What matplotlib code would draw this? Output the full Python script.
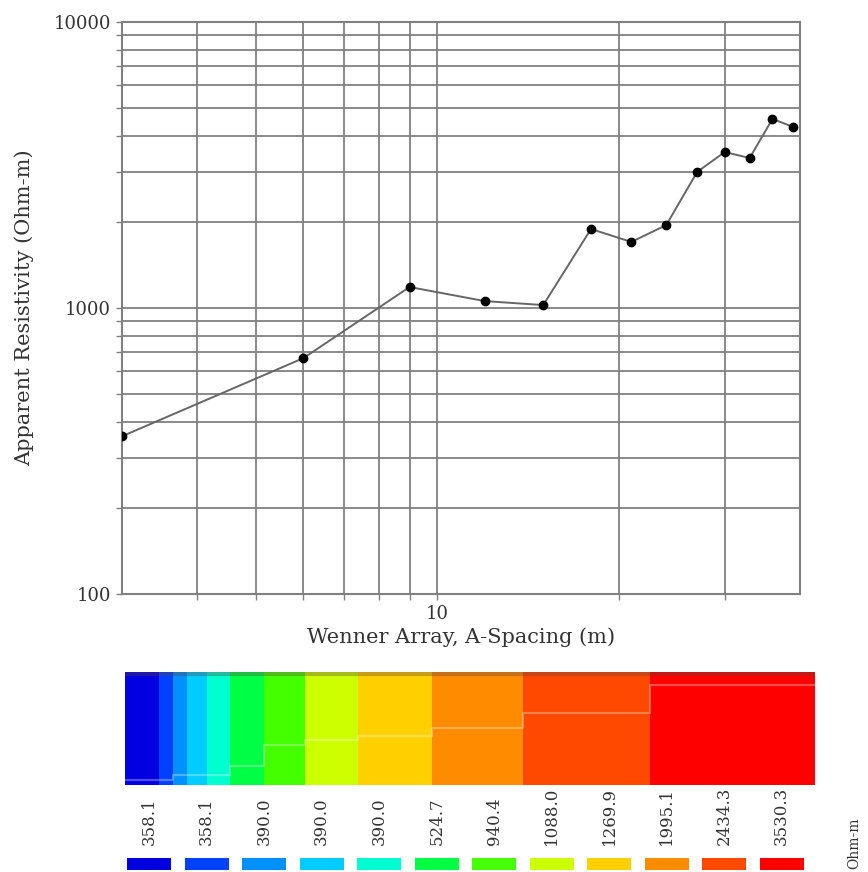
import matplotlib
matplotlib.use("Agg")
import matplotlib.pyplot as plt
import numpy as np
from matplotlib.ticker import FixedLocator, NullFormatter, FixedFormatter

# ---- sounding curve data ----
a_spacing = [3, 6, 9, 12, 15, 18, 21, 24, 27, 30, 33, 36, 39]
app_res = [356, 668, 1184, 1057, 1024, 1889, 1702, 1950, 2990, 3510, 3345, 4580, 4295]

# ---- pseudo-section / legend data ----
legend_labels = ["358.1", "358.1", "390.0", "390.0", "390.0", "524.7",
                 "940.4", "1088.0", "1269.9", "1995.1", "2434.3", "3530.3"]
legend_colors = ["#0000E0", "#0040FF", "#0090FF", "#00CCFF", "#00FFD0", "#00FF44",
                 "#44FF00", "#CCFF00", "#FFD000", "#FF8C00", "#FF4800", "#FF0000"]
section_widths = [34, 14, 14, 20, 23, 34, 41, 53, 74, 91, 127, 165]
section_layer_depth = [108, 108, 103, 103, 103, 94, 73, 68, 64, 56, 41, 13]

fig = plt.figure(figsize=(8.68, 8.72), dpi=100)
W, H = 868, 872

def ax_px(l, t, r, b):
    return fig.add_axes([l / W, 1 - b / H, (r - l) / W, (b - t) / H])

serif = ["DejaVu Serif"]
tc = "#333333"
gc = "#808080"

# ---- main sounding plot ----
ax = ax_px(122, 22, 800, 594)
ax.plot(a_spacing, app_res, color="#666666", lw=1.4, marker="o", ms=6,
        mfc="black", mec="black", zorder=3)
ax.set_xscale("log")
ax.set_yscale("log")
ax.set_xlim(3, 40)
ax.set_ylim(100, 10000)

xmaj = [10]
xmin = [4, 5, 6, 7, 8, 9, 20, 30]
ymaj = [100, 1000, 10000]
ymin = [v * m for m in (100, 1000) for v in range(2, 10)]
ax.xaxis.set_major_locator(FixedLocator(xmaj))
ax.xaxis.set_major_formatter(FixedFormatter(["10"]))
ax.xaxis.set_minor_locator(FixedLocator(xmin))
ax.xaxis.set_minor_formatter(NullFormatter())
ax.yaxis.set_major_locator(FixedLocator(ymaj))
ax.yaxis.set_major_formatter(FixedFormatter(["100", "1000", "10000"]))
ax.yaxis.set_minor_locator(FixedLocator(ymin))
ax.yaxis.set_minor_formatter(NullFormatter())
ax.grid(True, which="both", color=gc, lw=1.3)
ax.set_axisbelow(True)
ax.tick_params(which="both", length=4, width=1, color=gc, direction="out",
               labelsize=13, labelcolor=tc, pad=4)
for lab in ax.get_xticklabels() + ax.get_yticklabels():
    lab.set_family(serif)
for s in ax.spines.values():
    s.set_color(gc)
    s.set_linewidth(1.5)
ax.set_xlabel("Wenner Array, A-Spacing (m)", family=serif, fontsize=15,
              color=tc, labelpad=3)
ax.set_ylabel("Apparent Resistivity (Ohm-m)", family=serif, fontsize=15,
              color=tc, labelpad=14)

# ---- pseudo-section ----
axs = ax_px(125, 672, 815, 785)
edges = np.concatenate([[0], np.cumsum(section_widths)])
total = edges[-1]
for i in range(len(section_widths)):
    axs.axvspan(edges[i], edges[i + 1], color=legend_colors[i], lw=0)
step_x = list(edges)
step_y = section_layer_depth + [section_layer_depth[-1]]
axs.step(step_x, step_y, where="post", color="white", alpha=0.3, lw=1.6)
axs.axhline(2, color="#604040", alpha=0.35, lw=3)
axs.set_xlim(0, total)
axs.set_ylim(113, 0)
axs.axis("off")

# ---- color legend ----
axl = ax_px(125, 785, 815, 872)
axl.set_xlim(0, len(legend_labels))
axl.set_ylim(87, 0)
axl.axis("off")
for i, (lab, col) in enumerate(zip(legend_labels, legend_colors)):
    axl.add_patch(plt.Rectangle((i + 0.04, 73), 0.76, 12, color=col, lw=0))
    axl.text(i + 0.42, 60, lab, rotation=90, ha="center", va="bottom",
             family=serif, fontsize=12, color=tc)
fig.text(854 / W, 1 - 843 / H, "Ohm-m", rotation=90, ha="center", va="center",
         family=serif, fontsize=10, color=tc)

fig.savefig("out.png", dpi=100)
